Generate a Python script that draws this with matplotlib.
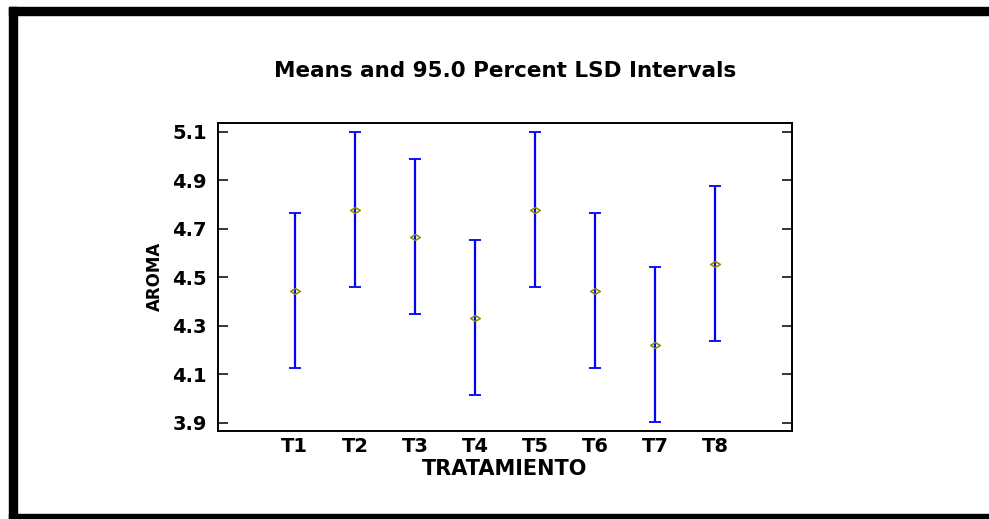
import matplotlib
matplotlib.use("Agg")
import matplotlib.pyplot as plt
from matplotlib.patches import Rectangle
from matplotlib.path import Path

W, H = 989, 519

treatments = ["T1", "T2", "T3", "T4", "T5", "T6", "T7", "T8"]
means = [4.444, 4.778, 4.667, 4.333, 4.778, 4.444, 4.222, 4.556]
lsd_half = [0.32, 0.32, 0.32, 0.32, 0.32, 0.32, 0.32, 0.32]
y_ticks = [3.9, 4.1, 4.3, 4.5, 4.7, 4.9, 5.1]

plt.rcParams["font.family"] = ["DejaVu Sans"]
plt.rcParams["font.weight"] = "bold"


def fx(x):
    return x / W


def fy(y):
    return 1 - y / H


fig = plt.figure(figsize=(W / 100, H / 100), dpi=100)

# heavy frame around the page (top, left, bottom)
for x0, y0, x1, y1 in [(9, 7, 989, 15), (9, 7, 17, 519), (9, 514, 989, 519)]:
    fig.patches.append(Rectangle((fx(x0), fy(y1)), fx(x1) - fx(x0), fy(y0) - fy(y1),
                                 transform=fig.transFigure, color="black", zorder=0))

ax = fig.add_axes([fx(218), fy(431), fx(792) - fx(218), fy(123) - fy(431)])

# flattened open diamond used for the means
diamond = Path([(-1, 0), (0, 0.6), (1, 0), (0, -0.6), (-1, 0)],
               [Path.MOVETO, Path.LINETO, Path.LINETO, Path.LINETO, Path.CLOSEPOLY])

xs = list(range(1, len(treatments) + 1))
ax.errorbar(xs, means, yerr=lsd_half, fmt="none", ecolor="#0000ff",
            elinewidth=1.6, capsize=4, capthick=1.3, zorder=2)
ax.plot(xs, means, linestyle="none", marker=diamond, markersize=7,
        markerfacecolor="none", markeredgecolor="#8a8a00", markeredgewidth=1.1, zorder=3)

ax.set_xlim(-0.28, 9.28)
ax.set_ylim(3.866, 5.136)
ax.set_xticks(xs)
ax.set_xticklabels(treatments)
ax.set_yticks(y_ticks)
ax.set_yticklabels([f"{v:.1f}" for v in y_ticks])

ax.tick_params(axis="x", length=0, pad=4, labelsize=14)
ax.tick_params(axis="y", direction="in", length=7.5, width=1.1, pad=8,
               labelsize=14, right=True)
for s in ax.spines.values():
    s.set_linewidth(1.4)

fig.text(fx(505), fy(71), "Means and 95.0 Percent LSD Intervals",
         ha="center", va="center", fontsize=15.5, fontweight="bold")
fig.text(fx(505), fy(469), "TRATAMIENTO", ha="center", va="center",
         fontsize=15, fontweight="bold")
fig.text(fx(155), fy(276), "AROMA", ha="center", va="center", rotation=90,
         fontsize=12, fontweight="bold")

fig.savefig("out.png", dpi=100)
